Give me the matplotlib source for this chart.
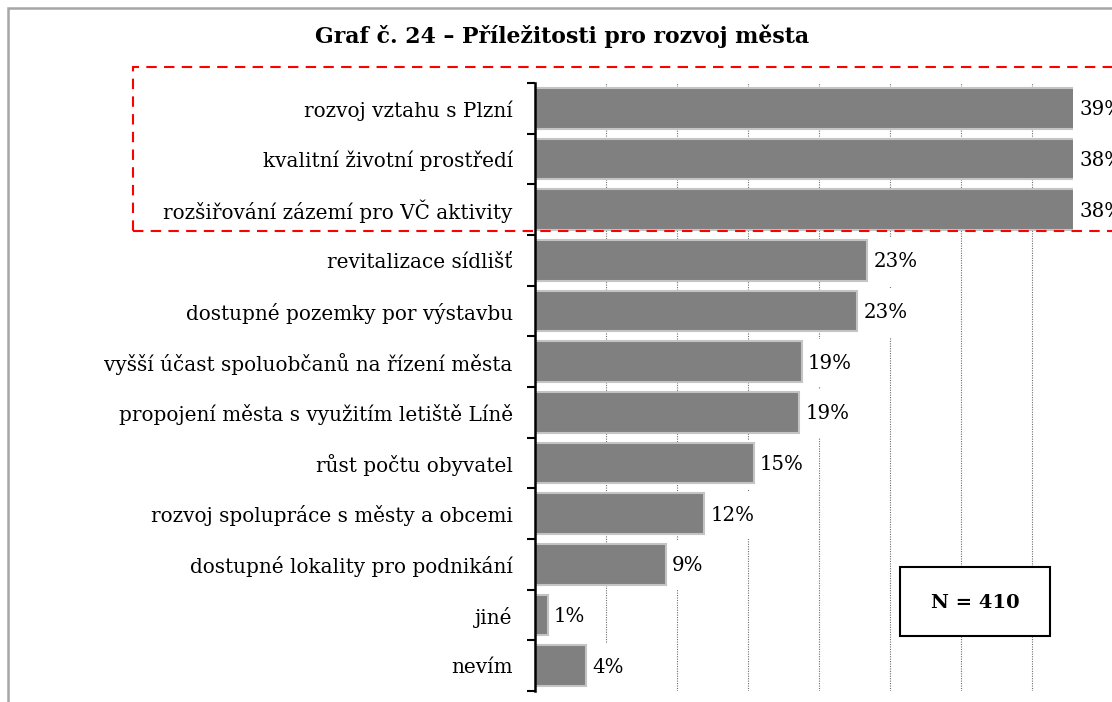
import matplotlib
matplotlib.use("Agg")
import matplotlib.pyplot as plt
from matplotlib.patches import Rectangle
import numpy as np

# data
categories = ['rozvoj vztahu s Plzní', 'kvalitní životní prostředí',
              'rozšiřování zázemí pro VČ aktivity', 'revitalizace sídlišť',
              'dostupné pozemky por výstavbu', 'vyšší účast spoluobčanů na řízení města',
              'propojení města s využitím letiště Líně', 'růst počtu obyvatel',
              'rozvoj spolupráce s městy a obcemi', 'dostupné lokality pro podnikání',
              'jiné', 'nevím']
values = [38.6, 38.2, 38.0, 23.4, 22.7, 18.8, 18.6, 15.4, 11.9, 9.2, 0.9, 3.6]
title = 'Graf č. 24 – Příležitosti pro rozvoj města'
n_note = 'N = 410'

W, H = 1112, 702
plt.rcParams['font.family'] = ['DejaVu Serif']

fig = plt.figure(figsize=(W / 100, H / 100), dpi=100)

def px(x0, y0, x1, y1):
    # pixel box (from top-left) -> figure fraction rect
    return [x0 / W, 1 - y1 / H, (x1 - x0) / W, (y1 - y0) / H]

ax = fig.add_axes(px(535, 83, 1073, 691))
xmax = 37.9
y = np.arange(len(categories))

ax.barh(y, values, height=0.8, color='#808080', edgecolor='#c4c4c4',
        linewidth=1.5, zorder=2)

for yi, v in zip(y, values):
    ax.annotate(f'{v:.0f}%', (min(v, xmax), yi), xytext=(4.5, -1),
                textcoords='offset points', ha='left', va='center',
                fontsize=14.2, color='black', zorder=1.5, annotation_clip=False,
                bbox=dict(boxstyle='square,pad=0.75', fc='white', ec='none'))

ax.set_xlim(0, xmax)
ax.set_ylim(len(categories) - 0.5, -0.5)
ax.set_xticks(np.arange(5, xmax, 5))
ax.tick_params(axis='x', length=0, labelbottom=False)
ax.xaxis.grid(True, linestyle=(0, (1, 1.2)), color='#6e6e6e', linewidth=0.8)
ax.set_axisbelow(True)

ax.set_yticks(y)
ax.set_yticklabels(categories, fontsize=14.4)
ax.tick_params(axis='y', which='major', length=0, pad=16)
ax.set_yticks(np.arange(-0.5, len(categories)), minor=True)
ax.tick_params(axis='y', which='minor', length=6, width=1.5, direction='out')

for s in ['top', 'right', 'bottom']:
    ax.spines[s].set_visible(False)
ax.spines['left'].set_linewidth(1.8)

# chart frame (cut off on the right and bottom)
fig.patches.append(Rectangle((8 / W, -0.1), 1.2, 1 - 8 / H + 0.1,
                             transform=fig.transFigure, fill=False,
                             edgecolor='#a6a6a6', linewidth=1.8))

fig.text(562 / W, 1 - 36 / H, title, ha='center', va='center',
         fontsize=15.8, fontweight='bold')

# highlight box around top three
fig.patches.append(Rectangle((133 / W, 1 - 231 / H), 1.0, (231 - 67) / H,
                             transform=fig.transFigure, fill=False,
                             edgecolor='#ff0000', linewidth=1.5,
                             linestyle=(0, (5, 3.5)), zorder=5))

# sample size box
fig.patches.append(Rectangle((900 / W, 1 - 636 / H), 150 / W, 69 / H,
                             transform=fig.transFigure, facecolor='white',
                             edgecolor='black', linewidth=1.5, zorder=4))
fig.text(975 / W, 1 - 603 / H, n_note, ha='center', va='center',
         fontsize=14, fontweight='bold', zorder=6)

fig.savefig('out.png', dpi=100)
